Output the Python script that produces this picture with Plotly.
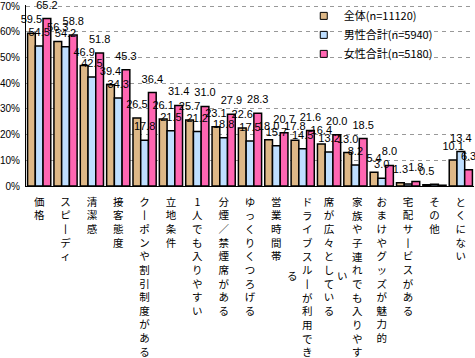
import plotly.graph_objects as go

categories = ["価格", "スピーディ", "清潔感", "接客態度", "クーポンや割引制度がある", "立地条件",
              "1人でも入りやすい", "分煙／禁煙席がある", "ゆっくりくつろげる", "営業時間帯",
              "ドライブスルーが利用できる", "席が広々としている", "家族や子連れでも入りやすい",
              "おまけやグッズが魅力的", "宅配サービスがある", "その他", "とくにない"]
total = [59.5, 56.3, 46.9, 39.4, 26.5, 26.1, 25.7, 23.1, 22.6, 18.0, 17.8, 16.4, 13.0, 5.4, 1.3, 0.5, 10.1]
male = [54.5, 54.2, 42.5, 34.3, 17.8, 21.5, 21.2, 18.8, 17.5, 15.7, 14.5, 13.2, 8.2, 3.0, 0.8, 0.7, 13.4]
female = [65.2, 58.8, 51.8, 45.3, 36.4, 31.4, 31.0, 27.9, 28.3, 20.7, 21.6, 20.0, 18.5, 8.0, 1.8, 0.3, 6.3]
hidden_male = ["宅配サービスがある", "その他"]
hidden_female = ["その他"]
series_names = ["全体(n=11120)", "男性合計(n=5940)", "女性合計(n=5180)"]
colors = ["#deb887", "#bfdfff", "#ff66b2"]
yticks = [0, 10, 20, 30, 40, 50, 60, 70]
two_col = {"ドライブスルーが利用できる": ("ドライブスルーが利用でき", "る", 5, -10),
           "家族や子連れでも入りやすい": ("家族や子連れでも入りやす", "い", 2, -13)}

def vert(s):
    return "<br>".join("丨" if c == "ー" else c for c in s)

def labels(vals, hidden):
    return ["" if c in hidden else f"{v:.1f}" for c, v in zip(categories, vals)]

fig = go.Figure()
data = [(total, []), (male, hidden_male), (female, hidden_female)]
for i, ((vals, hid), name, col) in enumerate(zip(data, series_names, colors)):
    fig.add_trace(go.Bar(
        x=categories, y=vals, name=name, showlegend=False, offsetgroup=str(i),
        marker=dict(color=col, line=dict(color="black", width=1.5)),
        cliponaxis=False, hoverinfo="skip"))
# value labels drawn above all bars
for i, (vals, hid) in enumerate(data):
    fig.add_trace(go.Scatter(
        x=categories, y=vals, showlegend=False, offsetgroup=str(i),
        mode="markers+text", marker=dict(size=10, color="rgba(0,0,0,0)"),
        text=labels(vals, hid), textposition="top center",
        textfont=dict(family="Liberation Sans, Noto Sans CJK JP", size=11, color="black"),
        cliponaxis=False, hoverinfo="skip"))
for i, (name, col) in enumerate(zip(series_names, colors)):
    fig.add_trace(go.Scatter(
        x=[None], y=[None], mode="markers", name=name, offsetgroup=str(i),
        marker=dict(symbol="square", size=7, color=col, line=dict(color="black", width=1))))

ticktext = ["" if c in two_col else vert(c) for c in categories]
annotations = []
for c, (main, extra, xs_main, xs_extra) in two_col.items():
    annotations.append(dict(x=c, y=0, xref="x", yref="y", text=vert(main), showarrow=False,
                            xanchor="center", yanchor="top", xshift=xs_main, yshift=-6,
                            font=dict(family="Noto Sans CJK JP", size=10.5, color="black")))
    annotations.append(dict(x=c, y=0, xref="x", yref="y", text=extra, showarrow=False,
                            xanchor="center", yanchor="top", xshift=xs_extra, yshift=-80,
                            font=dict(family="Noto Sans CJK JP", size=10.5, color="black")))

fig.update_layout(
    width=475, height=358, template="none",
    margin=dict(l=26, r=1, t=3, b=172),
    paper_bgcolor="white", plot_bgcolor="white",
    barmode="group", bargap=0.12, bargroupgap=0,
    scattermode="group", scattergap=0.12,
    font=dict(family="Noto Sans CJK JP", color="black"),
    legend=dict(x=0.62, y=1.02, xanchor="left", yanchor="top", bgcolor="rgba(0,0,0,0)",
                font=dict(family="Noto Sans CJK JP", size=11, color="black"),
                tracegroupgap=0, itemwidth=30),
    annotations=annotations,
    shapes=[dict(type="rect", xref="paper", yref="paper", x0=0.555, x1=0.98, y0=0.63, y1=0.93,
                 fillcolor="white", line=dict(width=0), layer="between")],
    xaxis=dict(type="category", tickvals=categories, ticktext=ticktext, range=[-0.5, 16.5],
               showline=True, linecolor="black", linewidth=1, ticks="", showgrid=False,
               tickangle=0, automargin=False, ticklabelstandoff=6,
               tickfont=dict(family="Noto Sans CJK JP", size=10.5, color="black")),
    yaxis=dict(range=[0, 70.5], tickvals=yticks, ticktext=[f"{v}%" for v in yticks],
               showline=True, linecolor="black", linewidth=1, ticks="",
               showgrid=True, gridcolor="#999999", gridwidth=1, griddash="4px,4px",
               zeroline=False, automargin=False, ticklabelstandoff=3,
               ticklabeloverflow="allow",
               tickfont=dict(family="Liberation Sans", size=10, color="black")),
)
fig.write_html("out.html", config={"displayModeBar": False},
               post_script="document.body.style.margin='0';")
